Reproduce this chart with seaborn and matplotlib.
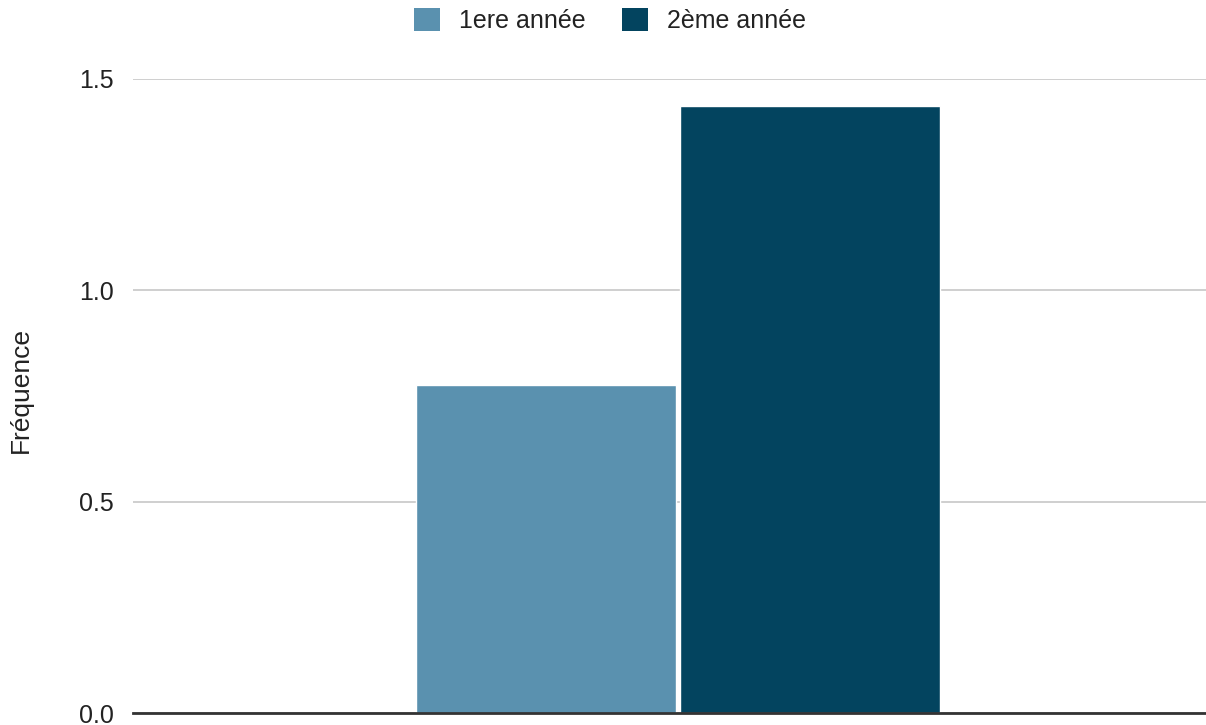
import matplotlib
matplotlib.use("Agg")
import matplotlib.pyplot as plt
import seaborn as sns
import pandas as pd
from matplotlib.patches import Patch

# Data
categories = [""]
series = ["1ere année", "2ème année"]
values = [0.776, 1.436]
colors = ["#5a91af", "#03445f"]
yticks = [0.0, 0.5, 1.0, 1.5]

sns.set_theme(style="white")
plt.rcParams["font.family"] = ["Liberation Sans", "DejaVu Sans"]

df = pd.DataFrame({"cat": categories * len(series), "serie": series, "val": values})

fig = plt.figure(figsize=(12.06, 7.25), dpi=100)
ax = fig.add_axes([0.1103, 0.01655, 0.8897, 0.8745])

sns.barplot(data=df, x="cat", y="val", hue="serie", palette=colors,
            width=0.4926, gap=0.015, ax=ax, legend=False, saturation=1)

ax.set_xlim(-0.508, 0.493)
ax.set_ylim(0, 1.5)
ax.set_yticks(yticks)
ax.set_yticklabels([f"{t:.1f}" for t in yticks], fontsize=18, color="#222222")
ax.tick_params(axis="y", length=0, pad=14)
ax.tick_params(axis="x", length=0, labelbottom=False)
ax.set_xlabel("")
ax.set_ylabel("Fréquence", fontsize=19, color="#222222")
ax.yaxis.set_label_coords(-0.0935, 0.51)
ax.yaxis.grid(True, color="#cccccc", linewidth=1.3)
ax.set_axisbelow(True)
for s in ["top", "right", "left"]:
    ax.spines[s].set_visible(False)
ax.spines["bottom"].set_color("#333333")
ax.spines["bottom"].set_linewidth(2)
ax.spines["bottom"].set_zorder(5)

handles = [Patch(facecolor=c, edgecolor="none", label=s) for c, s in zip(colors, series)]
fig.legend(handles=handles, loc="center", bbox_to_anchor=(0.5057, 0.972), ncol=2,
           frameon=False, fontsize=18, handlelength=1.05, handleheight=1.05,
           handletextpad=0.75, columnspacing=1.46, labelcolor="#222222")

fig.savefig("out.png", dpi=100)
